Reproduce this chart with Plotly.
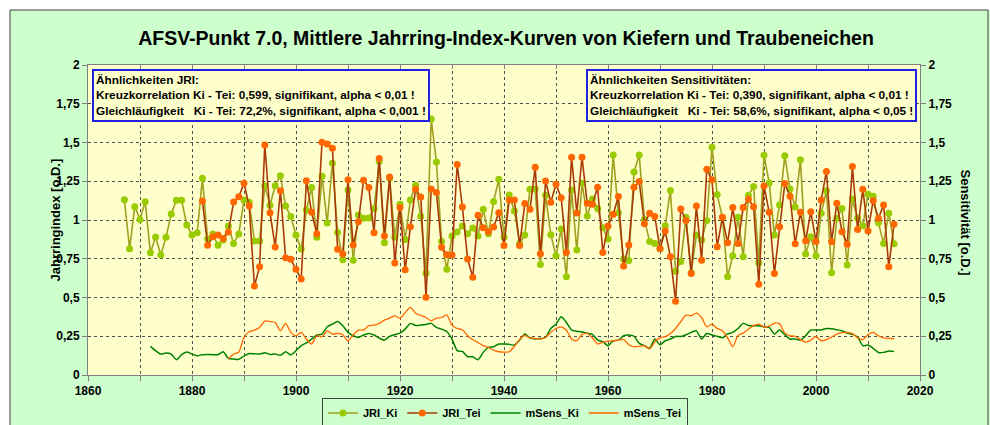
import plotly.graph_objects as go

# ---------------- data ----------------
years_ki = list(range(1867, 2016))
jri_ki = [1.13, 0.815, 1.086, 1.004, 1.118, 0.789, 0.890, 0.774, 0.888, 1.039,
          1.127, 1.127, 0.968, 0.903, 0.918, 1.269, 0.877, 0.910, 0.837, 0.871,
          0.961, 0.849, 0.910, 1.129, 1.114, 0.864, 0.864, 1.221, 1.095, 1.221,
          1.286, 1.090, 1.022, 0.903, 0.8125, 1.065, 1.209, 0.888, 1.282, 0.981,
          1.366, 0.920, 0.744, 1.194, 0.741, 1.032, 1.011, 1.013, 1.073, 1.377,
          0.853, 1.27, 0.888, 1.101, 0.875, 1.129, 1.224, 1.024, 0.657, 1.651,
          1.375, 0.862, 0.683, 0.897, 0.922, 0.961, 0.912, 0.948, 0.897, 1.069,
          0.912, 1.119, 1.263, 0.888, 1.162, 1.058, 0.849, 0.903, 1.198, 1.200,
          0.713, 1.159, 0.905, 0.769, 0.942, 0.634, 1.194, 0.806, 1.237, 1.026,
          1.136, 1.075, 0.950, 0.877, 1.420, 1.047, 0.748, 0.739, 1.310, 1.420,
          1.004, 0.862, 0.849, 0.815, 0.963, 1.190, 0.670, 0.733, 1.017, 0.66,
          0.903, 0.871, 0.996, 1.470, 1.164, 1.017, 0.634, 0.769, 1.017, 0.763,
          1.159, 1.216, 0.724, 1.418, 1.239, 0.903, 1.097, 1.414, 1.200, 1.084,
          1.388, 0.780, 0.892, 0.769, 1.043, 1.188, 0.660, 1.011, 1.075, 0.709,
          1.136, 1.011, 0.963, 1.166, 1.153, 0.983, 0.849, 1.043, 0.847]

years_tei = list(range(1882, 2016))
jri_tei = [1.123, 0.837, 0.892, 0.903, 0.880, 0.923, 1.116, 1.150, 1.237, 1.090,
           0.574, 0.699, 1.484, 1.047, 0.826, 1.189, 0.757, 0.746, 0.682, 0.619,
           1.254, 1.050, 0.912, 1.502, 1.491, 1.463, 0.812, 0.780, 1.259, 0.838,
           0.989, 1.256, 1.209, 0.918, 1.397, 0.897, 1.278, 0.722, 1.080, 0.679,
           0.957, 1.198, 1.149, 0.502, 1.200, 1.177, 0.825, 0.776, 0.774, 1.358,
           1.084, 0.748, 0.631, 1.030, 0.950, 0.925, 0.955, 1.047, 0.836, 1.129,
           1.129, 0.836, 1.106, 1.069, 1.341, 0.782, 1.252, 1.114, 1.231, 1.144,
           0.791, 1.405, 1.045, 1.405, 1.108, 1.101, 1.211, 0.791, 0.961, 1.037,
           1.151, 0.703, 0.838, 1.211, 1.248, 0.976, 1.043, 1.022, 0.815, 0.929,
           0.763, 0.476, 1.071, 0.996, 0.655, 1.090, 0.741, 1.328, 1.259, 0.828,
           1.017, 0.853, 1.080, 0.849, 1.080, 1.134, 1.086, 0.586, 1.220, 1.050,
           0.655, 0.957, 1.235, 1.153, 0.847, 1.050, 0.866, 1.054, 0.862, 1.129,
           1.313, 0.860, 1.108, 0.925, 0.843, 1.345, 0.938, 1.198, 0.929, 1.125,
           1.009, 1.097, 0.698, 0.972]

years_sens_ki = list(range(1872, 2016))
msens_ki = [0.185, 0.157, 0.135, 0.142, 0.135, 0.099, 0.131, 0.148, 0.135, 0.124,
            0.131, 0.133, 0.131, 0.131, 0.150, 0.107, 0.103, 0.101, 0.122, 0.139,
            0.137, 0.135, 0.144, 0.133, 0.135, 0.127, 0.150, 0.129, 0.157, 0.189,
            0.208, 0.232, 0.258, 0.264, 0.311, 0.328, 0.345, 0.318, 0.275, 0.253,
            0.242, 0.258, 0.268, 0.258, 0.238, 0.225, 0.249, 0.260, 0.270, 0.296,
            0.333, 0.320, 0.322, 0.326, 0.333, 0.307, 0.296, 0.281, 0.232, 0.157,
            0.152, 0.118, 0.118, 0.099, 0.146, 0.178, 0.182, 0.200,
            0.200, 0.198, 0.193, 0.225, 0.264, 0.240, 0.232, 0.235, 0.242, 0.300,
            0.328, 0.376, 0.339, 0.290, 0.283, 0.278, 0.270, 0.262, 0.225, 0.215,
            0.189, 0.221, 0.225, 0.253, 0.258, 0.250, 0.204, 0.190, 0.172, 0.232,
            0.195, 0.221, 0.232, 0.249, 0.249, 0.260, 0.275, 0.285, 0.232, 0.268,
            0.258, 0.250, 0.240, 0.265, 0.275, 0.300, 0.333, 0.320, 0.318, 0.318,
            0.310, 0.307, 0.264, 0.290, 0.260, 0.232, 0.232, 0.225, 0.253, 0.290,
            0.290, 0.290, 0.300, 0.298, 0.292, 0.285, 0.270, 0.262, 0.245, 0.189,
            0.193, 0.172, 0.145, 0.146, 0.155, 0.152]

years_sens_tei = list(range(1887, 2016))
msens_tei = [0.101, 0.135, 0.148, 0.242, 0.279, 0.290, 0.307, 0.348, 0.345, 0.339,
             0.285, 0.333, 0.275, 0.253, 0.275, 0.232, 0.200, 0.253, 0.247, 0.285,
             0.264, 0.268, 0.260, 0.221, 0.258, 0.290, 0.290, 0.318, 0.322, 0.333,
             0.354, 0.367, 0.382, 0.365, 0.403, 0.436, 0.399, 0.384, 0.371, 0.350,
             0.367, 0.371, 0.388, 0.322, 0.300, 0.292, 0.253, 0.227, 0.210, 0.189,
             0.178, 0.160, 0.150,
             0.147, 0.150, 0.185, 0.230, 0.255, 0.240, 0.236, 0.232, 0.242, 0.275,
             0.300, 0.311, 0.290, 0.232, 0.221, 0.262, 0.268, 0.240, 0.200, 0.210,
             0.218, 0.221, 0.225, 0.230, 0.195, 0.182, 0.185, 0.190, 0.168, 0.215,
             0.240, 0.247, 0.268, 0.300, 0.345, 0.386, 0.382, 0.399, 0.371, 0.311,
             0.328, 0.300, 0.285, 0.240, 0.182, 0.255, 0.270, 0.295, 0.318, 0.328,
             0.310, 0.315, 0.335, 0.330, 0.270, 0.253, 0.250, 0.228, 0.212, 0.225,
             0.247, 0.221, 0.228, 0.245, 0.264, 0.273, 0.275, 0.268, 0.240, 0.228,
             0.260, 0.275, 0.253, 0.240, 0.236, 0.234]

x_tickvals = [1860, 1870, 1880, 1890, 1900, 1910, 1920, 1930, 1940, 1950, 1960,
              1970, 1980, 1990, 2000, 2010, 2020]
x_ticktext = ["1860", "", "1880", "", "1900", "", "1920", "", "1940", "", "1960",
              "", "1980", "", "2000", "", "2020"]
y_tickvals = [0, 0.25, 0.5, 0.75, 1, 1.25, 1.5, 1.75, 2]
y_ticktext = ["0", "0,25", "0,5", "0,75", "1", "1,25", "1,5", "1,75", "2"]

title_text = "AFSV-Punkt 7.0, Mittlere Jahrring-Index-Kurven von Kiefern und Traubeneichen"
box_left = ["Ähnlichkeiten JRI:",
            "Kreuzkorrelation Ki - Tei: 0,599, signifikant, alpha < 0,01 !",
            "Gleichläufigkeit\u00a0\u00a0\u00a0Ki - Tei: 72,2%, signifikant, alpha < 0,001 !"]
box_right = ["Ähnlichkeiten Sensitivitäten:",
             "Kreuzkorrelation Ki - Tei: 0,390, signifikant, alpha < 0,01 !",
             "Gleichläufigkeit\u00a0\u00a0\u00a0Ki - Tei: 58,6%, signifikant, alpha < 0,05 !"]

# ---------------- figure ----------------
FONT = "Liberation Sans, Arial, sans-serif"
W, H = 990, 425
ML, MR, MT, MB = 88, 70, 65, 50
PW, PH = W - ML - MR, H - MT - MB


def px(x):
    return (x - ML) / PW


def py(y):
    return (H - MB - y) / PH


fig = go.Figure()
fig.add_trace(go.Scatter(
    x=years_ki, y=jri_ki, name="JRI_Ki", mode="lines+markers",
    line=dict(color="#A0A020", width=1.6),
    marker=dict(color="#99CC00", size=7, line=dict(width=0))))
fig.add_trace(go.Scatter(
    x=years_tei, y=jri_tei, name="JRI_Tei", mode="lines+markers",
    line=dict(color="#A83A08", width=1.6),
    marker=dict(color="#FF6600", size=7, line=dict(width=0))))
fig.add_trace(go.Scatter(
    x=years_sens_ki, y=msens_ki, name="mSens_Ki", mode="lines", yaxis="y2",
    line=dict(color="#008000", width=1.5, shape="spline", smoothing=0.6)))
fig.add_trace(go.Scatter(
    x=years_sens_tei, y=msens_tei, name="mSens_Tei", mode="lines", yaxis="y2",
    line=dict(color="#FF6600", width=1.3, shape="spline", smoothing=0.6)))

axis_common = dict(showline=True, linecolor="#808080", linewidth=1,
                   ticks="outside", ticklen=5, tickcolor="#808080",
                   tickfont=dict(family=FONT, size=12, color="black", weight="bold"),
                   zeroline=False)

fig.update_layout(
    width=W, height=H,
    margin=dict(l=ML, r=MR, t=MT, b=MB, autoexpand=False),
    paper_bgcolor="#CCFFCC",
    plot_bgcolor="#FFFFCC",
    font=dict(family=FONT, color="black"),
    title=dict(text=title_text, x=(506) / W, xanchor="center", y=1 - 38 / H,
               yanchor="middle",
               font=dict(family=FONT, size=19.5, color="black", weight="bold")),
    xaxis=dict(range=[1860, 2020], tickvals=x_tickvals, ticktext=x_ticktext,
               showgrid=True, gridcolor="#505050", griddash="dot", gridwidth=1,
               mirror=True, **axis_common),
    xaxis2=dict(range=[1860, 2020], overlaying="x", side="top", tickvals=x_tickvals,
                ticktext=[""] * len(x_tickvals), ticks="inside", ticklen=4,
                tickcolor="#808080", showgrid=False, showline=False, zeroline=False),
    yaxis=dict(range=[0, 2], tickvals=y_tickvals, ticktext=y_ticktext,
               showgrid=True, gridcolor="#505050", griddash="dot", gridwidth=1,
               mirror=False, **axis_common),
    yaxis2=dict(range=[0, 2], tickvals=y_tickvals, ticktext=y_ticktext,
                overlaying="y", side="right", showgrid=False, **axis_common),
    showlegend=True,
    legend=dict(orientation="h", x=px(505), xanchor="center", y=py(413), yanchor="middle",
                bgcolor="#CCFFCC", bordercolor="#404040", borderwidth=1,
                font=dict(family=FONT, size=11, color="black", weight="bold"),
                itemwidth=30, tracegroupgap=0),
)

# invisible trace to activate top axis ticks
fig.add_trace(go.Scatter(x=[1860], y=[0], xaxis="x2", mode="markers",
                         marker=dict(opacity=0), showlegend=False, hoverinfo="skip"))

# frame of chart area
fig.add_shape(type="rect", xref="paper", yref="paper",
              x0=px(0) - 0.01, x1=px(W) + 0.01, y0=py(10), y1=py(0) + 0.01,
              fillcolor="white", line=dict(width=0), layer="above")
fig.add_shape(type="rect", xref="paper", yref="paper",
              x0=px(0) - 0.01, x1=px(10), y0=py(H) - 0.01, y1=py(0) + 0.01,
              fillcolor="white", line=dict(width=0), layer="above")
fig.add_shape(type="rect", xref="paper", yref="paper",
              x0=px(10), x1=px(988), y0=py(H) - 0.02, y1=py(10),
              fillcolor="rgba(0,0,0,0)", line=dict(color="#404040", width=1), layer="above")

# axis titles
fig.add_annotation(text="<b>Jahrringindex [o.D.]</b>", xref="paper", yref="paper",
                   x=px(45), y=py(220), textangle=-90, showarrow=False,
                   font=dict(family=FONT, size=13, color="black"))
fig.add_annotation(text="<b>Sensitivität [o.D.]</b>", xref="paper", yref="paper",
                   x=px(975), y=py(222), textangle=90, showarrow=False,
                   font=dict(family=FONT, size=13, color="black"))

# info boxes
for lines, x_left in [(box_left, 92), (box_right, 586)]:
    fig.add_annotation(text="<b>" + "<br>".join(lines) + "</b>", xref="paper", yref="paper",
                       x=px(x_left), y=py(69), xanchor="left", yanchor="top",
                       align="left", showarrow=False,
                       bgcolor="#FFFFCC", bordercolor="#2020E0", borderwidth=2, borderpad=2,
                       font=dict(family=FONT, size=11.8, color="black"))

fig.write_html("out.html", config={"displayModeBar": False},
               post_script="document.body.style.margin='0';document.body.style.padding='0';")
